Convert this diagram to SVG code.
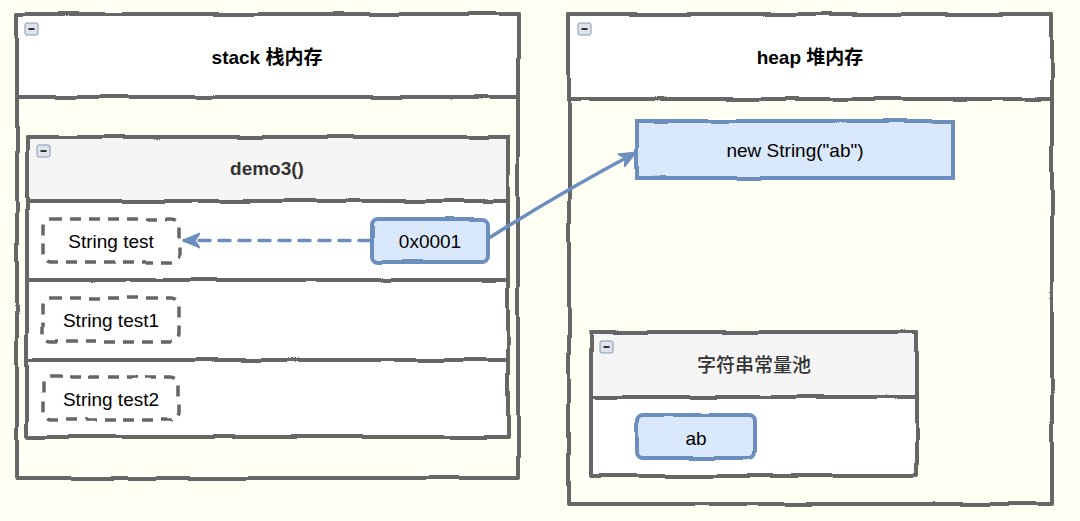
<svg xmlns="http://www.w3.org/2000/svg" width="1080" height="521" viewBox="0 0 1080 521">
<defs>
<filter id="rough" x="-5%" y="-5%" width="110%" height="110%">
<feTurbulence type="fractalNoise" baseFrequency="0.022" numOctaves="1" seed="5" result="n"/>
<feDisplacementMap in="SourceGraphic" in2="n" scale="4" xChannelSelector="R" yChannelSelector="G"/>
</filter>
<marker id="arrBlue" viewBox="0 0 12 12" refX="11" refY="6" markerWidth="5" markerHeight="5" markerUnits="strokeWidth" orient="auto">
<path d="M0,1 L12,6 L0,11 L3.5,6 Z" fill="#6c8ebf" stroke="#6c8ebf" stroke-width="1" stroke-linejoin="round"/>
</marker>
<g id="minus">
<rect x="0" y="0" width="13" height="12" rx="2" fill="#dde4ec" stroke="#8798ad" stroke-width="1"/>
<line x1="3.5" y1="6" x2="9.5" y2="6" stroke="#333" stroke-width="2"/>
</g>
</defs>
<style>
.frame{stroke:#666666;stroke-width:4;stroke-linejoin:round}
.blue{fill:#dae8fc;stroke:#6c8ebf;stroke-width:4}
.dash{fill:#ffffff;stroke:#666666;stroke-width:3.5;stroke-dasharray:11 8}
.t{font-family:"Liberation Sans",Arial,"Noto Sans CJK SC",sans-serif;font-size:19px;text-anchor:middle;fill:#000}
.tb{font-weight:bold}
.g{fill:#333333}
.m{font-weight:500}
</style>
<rect width="1080" height="521" fill="#fffff3"/>

<g id="stack">
<g filter="url(#rough)">
<rect x="17" y="14" width="501" height="464" fill="#fffff3" class="frame"/>
<rect x="17" y="14" width="501" height="83" fill="#ffffff" class="frame"/>
</g>
<use href="#minus" x="25" y="23"/>
<text x="267" y="64" class="t tb">stack 栈内存</text>
</g>

<g id="demo3">
<g filter="url(#rough)">
<rect x="27" y="137" width="481" height="300" fill="#ffffff" class="frame"/>
<rect x="27" y="137" width="481" height="64" fill="#f5f5f5" class="frame"/>
<line x1="27" y1="280" x2="508" y2="280" class="frame"/>
<line x1="27" y1="360" x2="508" y2="360" class="frame"/>
</g>
<use href="#minus" x="37" y="145"/>
<text x="267" y="175" class="t tb g">demo3()</text>
</g>

<g id="string-test">
<rect x="43" y="219" width="136" height="43" rx="8" class="dash" filter="url(#rough)"/>
<text x="111" y="248" class="t">String test</text>
</g>
<g id="string-test1">
<rect x="43" y="298" width="136" height="43" rx="8" class="dash" filter="url(#rough)"/>
<text x="111" y="327" class="t">String test1</text>
</g>
<g id="string-test2">
<rect x="43" y="377" width="136" height="43" rx="8" class="dash" filter="url(#rough)"/>
<text x="111" y="406" class="t">String test2</text>
</g>
<g id="addr">
<rect x="372" y="219" width="116" height="43" rx="6" class="blue" filter="url(#rough)"/>
<text x="430" y="248" class="t">0x0001</text>
</g>

<g id="heap">
<g filter="url(#rough)">
<rect x="569" y="14" width="483" height="490" fill="#fffff3" class="frame"/>
<rect x="569" y="14" width="483" height="85" fill="#ffffff" class="frame"/>
</g>
<use href="#minus" x="578" y="23"/>
<text x="810" y="64" class="t tb">heap 堆内存</text>
</g>

<g id="new-string">
<rect x="637" y="121" width="316" height="57" class="blue" filter="url(#rough)"/>
<text x="795" y="157" class="t">new String("ab")</text>
</g>

<g id="pool">
<g filter="url(#rough)">
<rect x="591" y="332" width="326" height="144" fill="#ffffff" class="frame"/>
<rect x="591" y="332" width="326" height="65" fill="#f5f5f5" class="frame"/>
</g>
<use href="#minus" x="600" y="341"/>
<text x="754" y="372" class="t g m">字符串常量池</text>
</g>

<g id="ab">
<rect x="637" y="415" width="118" height="43" rx="6" class="blue" filter="url(#rough)"/>
<text x="696" y="445" class="t">ab</text>
</g>

<g id="connectors" fill="none" stroke="#6c8ebf" stroke-width="3.5" stroke-linecap="round">
<path d="M370,240.5 L184,240.5" stroke-dasharray="11 9" marker-end="url(#arrBlue)"/>
<path d="M489,238 Q560,193 635,153" marker-end="url(#arrBlue)"/>
</g>
</svg>
